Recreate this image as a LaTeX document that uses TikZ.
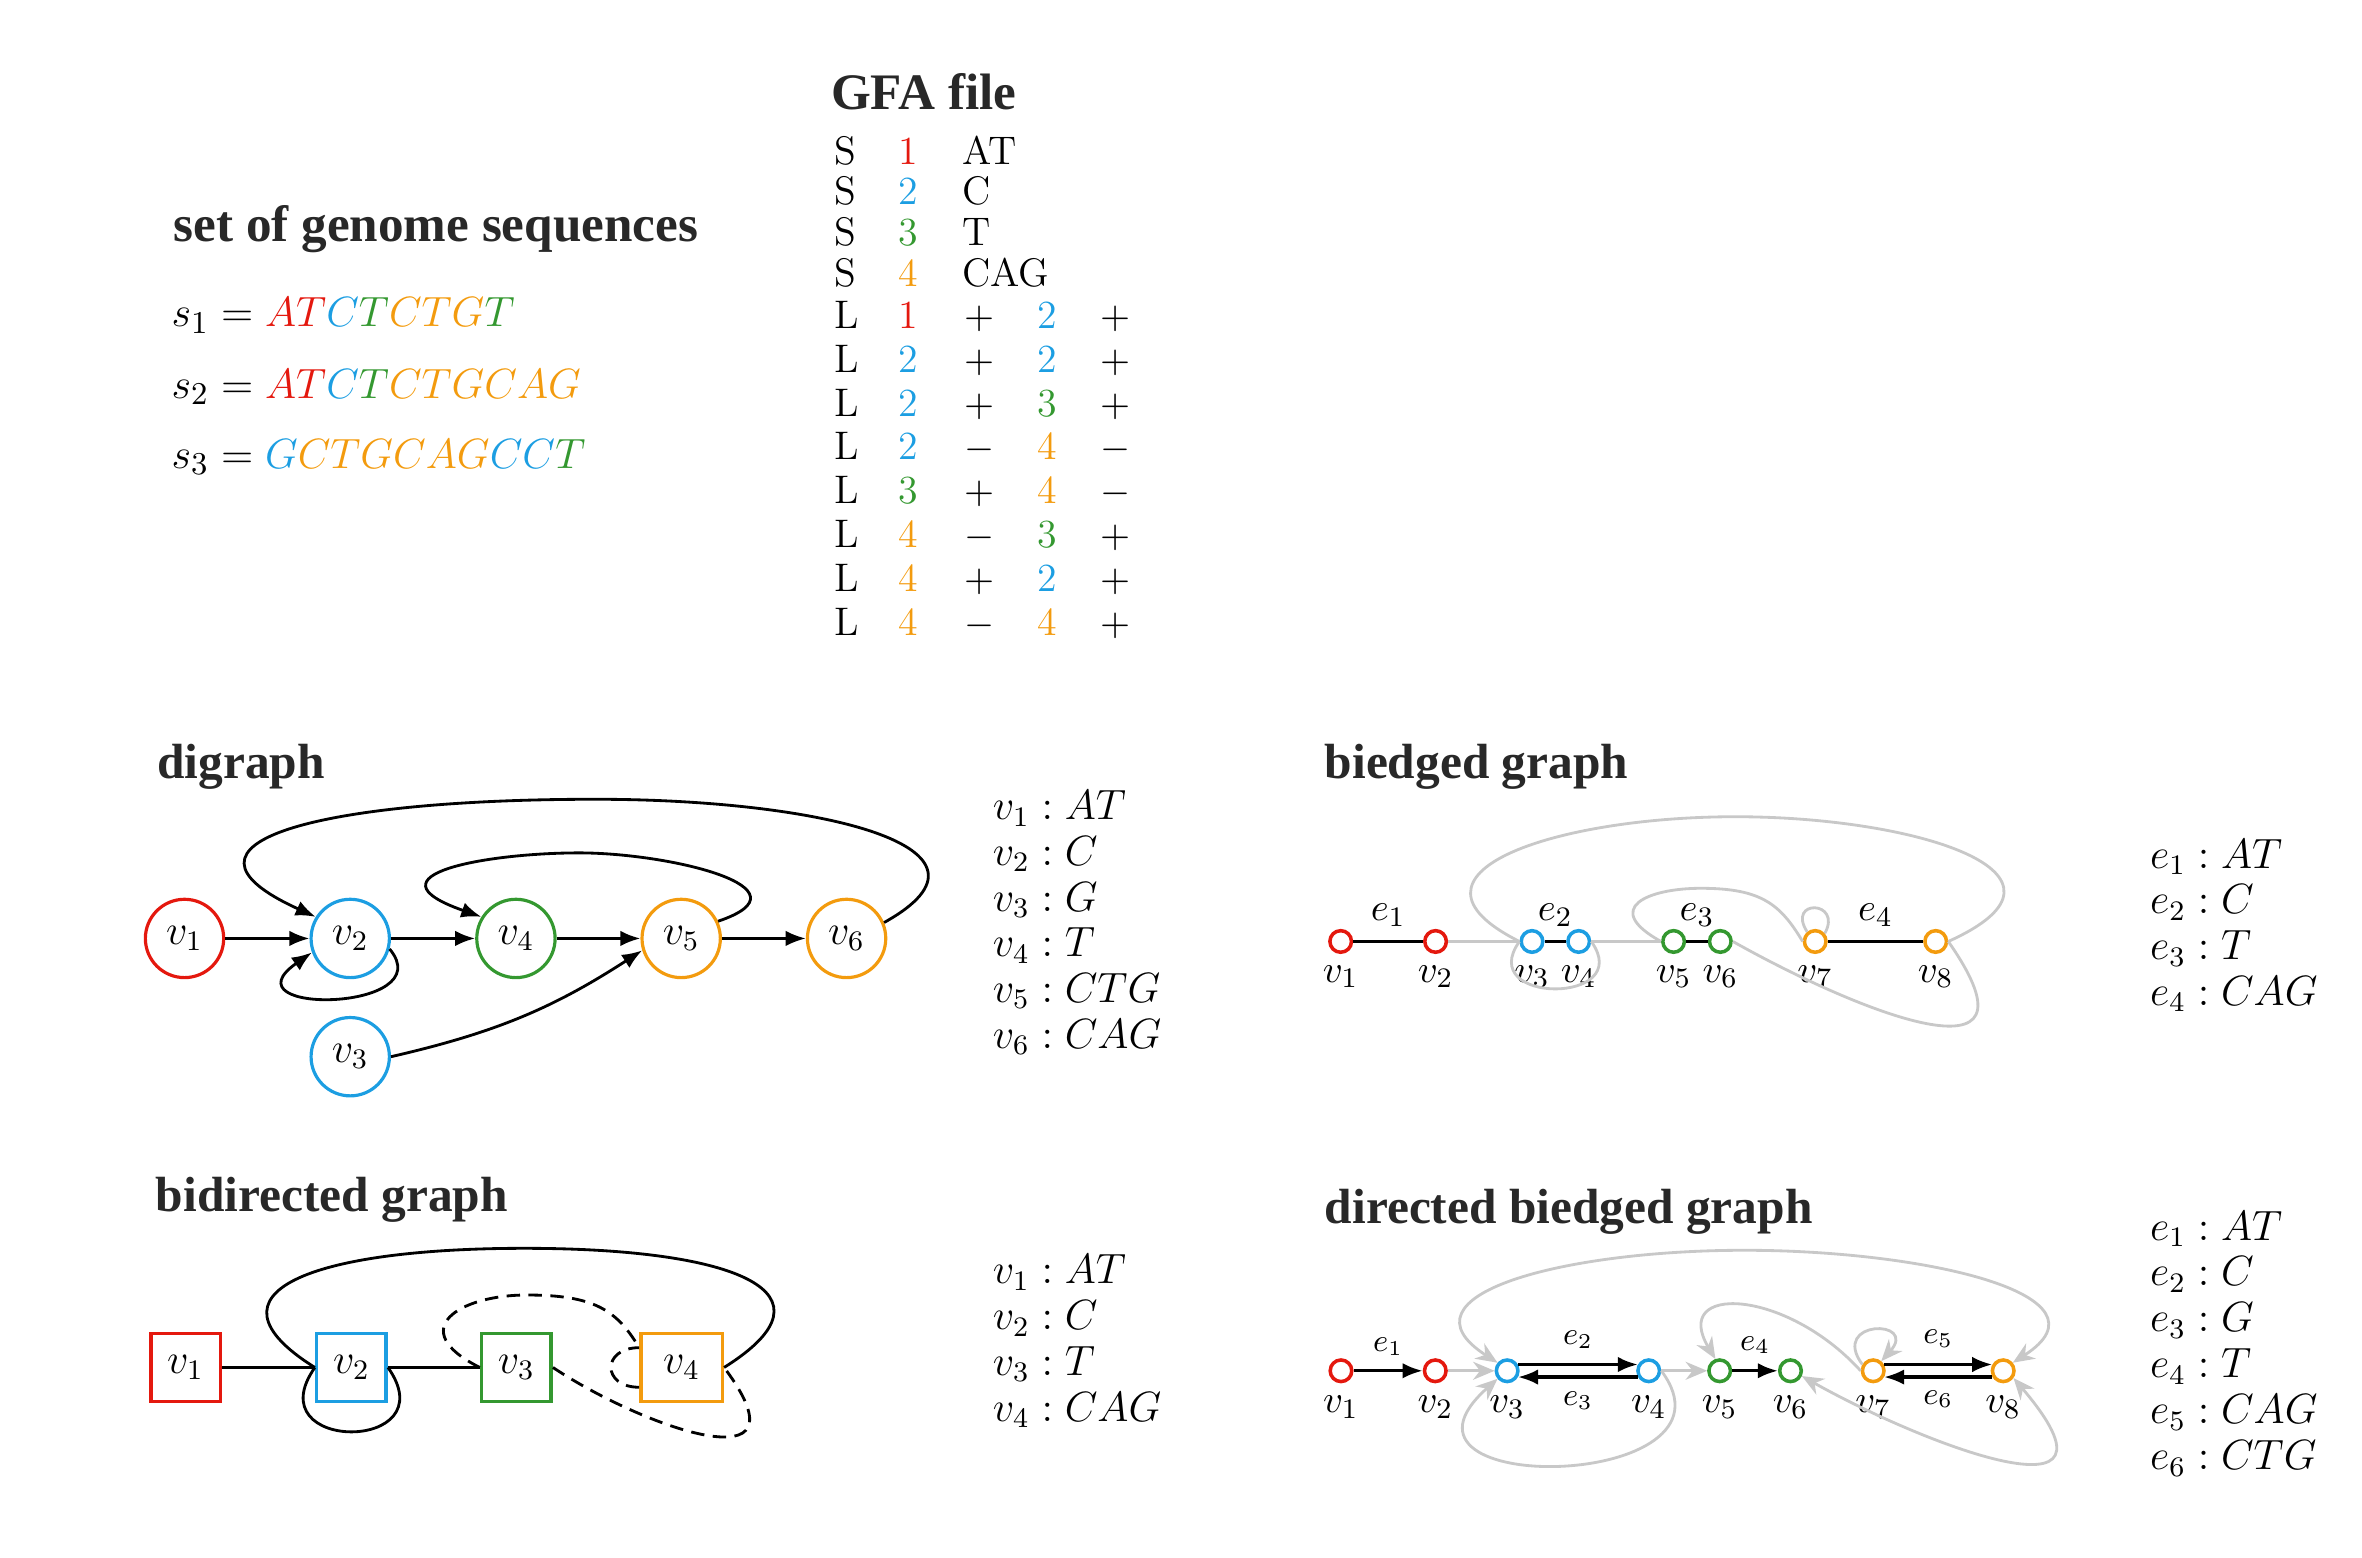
\documentclass[tikz,border=0pt]{standalone}
\usepackage{fontspec}
\newfontfamily\headfont{Liberation Serif}
\usetikzlibrary{arrows.meta}
\definecolor{segred}{RGB}{228,24,14}
\definecolor{segblue}{RGB}{28,158,226}
\definecolor{seggreen}{RGB}{52,152,48}
\definecolor{segorange}{RGB}{243,155,14}
\definecolor{linkgray}{RGB}{200,200,200}
\definecolor{headgray}{RGB}{40,40,40}
\tikzstyle{heading} = [
  anchor=base west,
  inner sep=0pt,
  text=headgray,
  font=\headfont\bfseries\fontsize{14.5}{17}\selectfont,
]
\tikzstyle{subheading} = [
  heading,
  font=\headfont\bfseries\fontsize{14}{17}\selectfont,
]
\tikzstyle{seqline} = [
  anchor=base west,
  inner sep=0pt,
  font=\fontsize{12.8}{15}\selectfont,
]
\tikzstyle{gfacell} = [
  anchor=base,
  inner sep=0pt,
  font=\fontsize{11.3}{13}\selectfont,
]
\tikzstyle{gfaleft} = [
  gfacell,
  anchor=base west,
]
\tikzstyle{seglist} = [
  anchor=base west,
  inner sep=0pt,
  font=\fontsize{12}{14}\selectfont,
]
\tikzstyle{segnode} = [
  circle,
  draw,
  line width=0.9pt,
  minimum size=0.78cm,
  inner sep=0pt,
  font=\fontsize{12}{14}\selectfont,
]
\tikzstyle{segbox} = [
  rectangle,
  draw,
  line width=1pt,
  minimum width=0.693cm,
  minimum height=0.678cm,
  inner sep=0pt,
  font=\fontsize{12}{14}\selectfont,
]
\tikzstyle{endnode} = [
  circle,
  draw,
  line width=1pt,
  minimum size=0.215cm,
  inner sep=0pt,
]
\tikzstyle{endlabel} = [
  inner sep=0pt,
  font=\fontsize{11.2}{13}\selectfont,
]
\tikzstyle{edgelabel} = [
  inner sep=0pt,
  font=\fontsize{10.8}{13}\selectfont,
]
\tikzstyle{smalllabel} = [
  inner sep=0pt,
  font=\fontsize{8.6}{10}\selectfont,
]
\tikzstyle{plainarc} = [
  line width=0.8pt,
]
\tikzstyle{blackarc} = [
  plainarc,
  -{Latex[length=5.7pt,width=4.4pt]},
]
\tikzstyle{dashedarc} = [
  plainarc,
  dash pattern=on 3.8pt off 2.4pt,
]
\tikzstyle{grayline} = [
  color=linkgray,
  line width=0.8pt,
]
\tikzstyle{grayarc} = [
  grayline,
  -{Stealth[length=6.1pt,width=5.1pt]},
]
\tikzstyle{graytwo} = [
  grayline,
  {Stealth[length=6.1pt,width=5.1pt]}-{Stealth[length=6.1pt,width=5.1pt]},
]

\begin{document}
\begin{tikzpicture}[
    x=0.015cm,
    y=0.015cm,
  ]
  \useasboundingbox (0,0) rectangle (1568,1034);

  % sequences and GFA lines
  \node[heading] (hseq) at (114.8,873.6) {set of genome sequences};
  \node[seqline] (seq1) at (113.5,817.1) {$s_1 = {\color{segred}AT}{\color{segblue}C}{\color{seggreen}T}{\color{segorange}CTG}{\color{seggreen}T}$};
  \node[seqline] (seq2) at (113.5,769.5) {$s_2 = {\color{segred}AT}{\color{segblue}C}{\color{seggreen}T}{\color{segorange}CTGCAG}$};
  \node[seqline] (seq3) at (113.5,723.1) {$s_3 = {\color{segblue}G}{\color{segorange}CTGCAG}{\color{segblue}CC}{\color{seggreen}T}$};

  \node[heading] (hgfa) at (551.2,961.4) {GFA file};
  \foreach \n/\c/\s [count=\r from 0] in {1/segred/AT, 2/segblue/C, 3/seggreen/T, 4/segorange/CAG} {
    \node[gfaleft] (gs\n) at (553.5,{925-27*\r}) {S};
    \node[gfacell, text=\c] (gsn\n) at (603,{925-27*\r}) {\n};
    \node[gfaleft] (gss\n) at (638.4,{925-27*\r}) {\s};
  }
  \foreach \a/\ca/\p/\b/\cb/\q [count=\r from 0] in {
      1/segred/+/2/segblue/+, 2/segblue/+/2/segblue/+,
      2/segblue/+/3/seggreen/+, 2/segblue/-/4/segorange/-,
      3/seggreen/+/4/segorange/-, 4/segorange/-/3/seggreen/+,
      4/segorange/+/2/segblue/+, 4/segorange/-/4/segorange/+} {
    \node[gfaleft] (gl\r) at (553.5,{816-29.1*\r}) {L};
    \node[gfacell, text=\ca] (gla\r) at (603,{816-29.1*\r}) {\a};
    \node[gfacell] (glp\r) at (650,{816-29.1*\r}) {$\p$};
    \node[gfacell, text=\cb] (glb\r) at (695.3,{816-29.1*\r}) {\b};
    \node[gfacell] (glq\r) at (740.2,{816-29.1*\r}) {$\q$};
  }

  % digraph
  \node[subheading] (hdi) at (104,517.5) {digraph};
  \foreach \i/\x/\y/\c in {1/122.5/411/segred, 2/232.5/411/segblue, 3/232.5/332.5/segblue,
      4/342.5/411/seggreen, 5/452.2/411/segorange, 6/562/411/segorange} {
    \node[segnode, draw=\c] (dv\i) at (\x,\y) {$v_{\i}$};
  }
  \path [blackarc] (dv1) edge (dv2);
  \path [blackarc] (dv2) edge (dv4);
  \path [blackarc] (dv4) edge (dv5);
  \path [blackarc] (dv5) edge (dv6);
  \path [blackarc] (dv3.east) edge[bend right=10] (dv5.197);
  \draw [blackarc] (dv2.-15) .. controls +(35,-42) and +(-60,-42) .. (dv2.200);
  \draw [blackarc] (dv5.25) .. controls +(65,22) and +(60,0) .. (384.4,467.8)
    .. controls +(-60,0) and +(-80,28) .. (dv4.148);
  \draw [blackarc] (dv6.23) .. controls +(90,50) and +(150,0) .. (395,503.4)
    .. controls +(-180,0) and +(-110,50) .. (dv2.148);
  \foreach \t [count=\r from 0] in {v_1 : AT, v_2 : C, v_3 : G, v_4 : T, v_5 : CTG, v_6 : CAG} {
    \node[seglist] (dl\r) at (658.7,{489.7-30.3*\r}) {$\t$};
  }

  % bidirected graph
  \node[subheading] (hbd) at (103,229.5) {bidirected graph};
  \foreach \i/\x/\c/\w in {1/123.2/segred/0.693cm, 2/233.3/segblue/0.693cm,
      3/342.8/seggreen/0.693cm, 4/452.5/segorange/0.81cm} {
    \node[segbox, draw=\c, minimum width=\w] (bdv\i) at (\x,126.2) {$v_{\i}$};
  }
  \path [plainarc] (bdv1) edge (bdv2);
  \path [plainarc] (bdv2) edge (bdv3);
  \draw [plainarc] (bdv2.west) .. controls +(-40,-57) and +(40,-57) .. (bdv2.east);
  \draw [plainarc] (bdv2.west) .. controls +(-80,50) and +(-140,0) .. (348,205.3)
    .. controls +(140,0) and +(80,50) .. (bdv4.east);
  \draw [dashedarc] (bdv3.west) .. controls +(-50,25) and +(-45,0) .. (349.6,174.3)
    .. controls +(45,0) and +(-15,25) .. (bdv4.155);
  \draw [dashedarc] (bdv4.205) .. controls +(-25,0) and +(-25,0) .. (bdv4.155);
  \draw [dashedarc] (bdv3.east) .. controls +(60,-40) and +(60,-80) .. (bdv4.east);
  \foreach \t [count=\r from 0] in {v_1 : AT, v_2 : C, v_3 : T, v_4 : CAG} {
    \node[seglist] (bdl\r) at (658.7,{181.7-30.4*\r}) {$\t$};
  }

  % biedged graph
  \node[subheading] (hbe) at (879,517.5) {biedged graph};
  \foreach \i/\x/\c in {1/890/segred, 2/953/segred, 3/1017/segblue, 4/1048/segblue,
      5/1111/seggreen, 6/1142/seggreen, 7/1205/segorange, 8/1285/segorange} {
    \node[endnode, draw=\c] (bev\i) at (\x,409) {};
    \node[endlabel] (bevl\i) at (\x,385.6) {$v_{\i}$};
  }
  \path [grayline] (bev2) edge (bev3);
  \path [grayline] (bev4) edge (bev5);
  \draw [grayline] (bev3.west) .. controls +(-30,-42) and +(30,-42) .. (bev4.east);
  \draw [grayline] (bev3.west) .. controls +(-90,45) and +(-120,0) .. (1152,491.8)
    .. controls +(120,0) and +(100,45) .. (bev8.east);
  \draw [grayline] (bev5.west) .. controls +(-40,22) and +(-35,0) .. (1129,444.3)
    .. controls +(40,0) and +(-15,25) .. (bev7.west);
  \draw [grayline] (bev6.east) .. controls +(80,-45) and +(70,-100) .. (bev8.east);
  \draw [grayline] (bev7.130) .. controls +(-14,22) and +(12,22) .. (bev7.40);
  \path [plainarc] (bev1) edge node[edgelabel, yshift=7.5pt] (bee1) {$e_1$} (bev2);
  \path [plainarc] (bev3) edge node[edgelabel, yshift=7.5pt] (bee2) {$e_2$} (bev4);
  \path [plainarc] (bev5) edge node[edgelabel, yshift=7.5pt] (bee3) {$e_3$} (bev6);
  \path [plainarc] (bev7) edge node[edgelabel, yshift=7.5pt] (bee4) {$e_4$} (bev8);
  \foreach \t [count=\r from 0] in {e_1 : AT, e_2 : C, e_3 : T, e_4 : CAG} {
    \node[seglist] (bel\r) at (1426.8,{457.7-30.4*\r}) {$\t$};
  }

  % directed biedged graph
  \node[subheading] (hdbe) at (879,222) {directed biedged graph};
  \foreach \i/\x/\c in {1/890.2/segred, 2/952.8/segred, 3/1000.5/segblue, 4/1094.5/segblue,
      5/1141.6/seggreen, 6/1188.6/seggreen, 7/1243.5/segorange, 8/1329.8/segorange} {
    \node[endnode, draw=\c] (dbv\i) at (\x,124) {};
    \node[endlabel] (dbvl\i) at (\x,100.1) {$v_{\i}$};
  }
  \path [grayarc] (dbv2) edge (dbv3);
  \path [grayarc] (dbv4) edge (dbv5);
  \draw [graytwo] (dbv3.140) .. controls +(-70,45) and +(-120,0) .. (1158,204)
    .. controls +(120,0) and +(70,45) .. (dbv8.40);
  \draw [grayarc] (dbv4.east) .. controls +(60,-80) and +(-90,-80) .. (dbv3.220);
  \draw [grayarc] (dbv7.west) .. controls +(-50,55) and +(-30,50) .. (dbv5.110);
  \draw [grayarc] (dbv7.150) .. controls +(-22,30) and +(25,28) .. (dbv7.50);
  \draw [graytwo] (dbv6.-25) .. controls +(80,-45) and +(85,-100) .. (dbv8.-35);
  \path [blackarc, line width=0.95pt] (dbv1) edge node[smalllabel, yshift=6.8pt] (dbe1) {$e_1$} (dbv2);
  \path [blackarc, line width=0.95pt] (dbv3.30) edge node[smalllabel, yshift=7pt] (dbe2) {$e_2$} (dbv4.150);
  \path [blackarc, line width=0.95pt] (dbv4.-150) edge node[smalllabel, yshift=-6.7pt] (dbe3) {$e_3$} (dbv3.-30);
  \path [blackarc, line width=0.95pt] (dbv5) edge node[smalllabel, yshift=7.2pt] (dbe4) {$e_4$} (dbv6);
  \path [blackarc, line width=0.95pt] (dbv7.30) edge node[smalllabel, yshift=7.3pt] (dbe5) {$e_5$} (dbv8.150);
  \path [blackarc, line width=0.95pt] (dbv8.-150) edge node[smalllabel, yshift=-6.3pt] (dbe6) {$e_6$} (dbv7.-30);
  \foreach \t [count=\r from 0] in {e_1 : AT, e_2 : C, e_3 : G, e_4 : T, e_5 : CAG, e_6 : CTG} {
    \node[seglist] (dbl\r) at (1426.8,{210.8-30.5*\r}) {$\t$};
  }
\end{tikzpicture}
\end{document}
